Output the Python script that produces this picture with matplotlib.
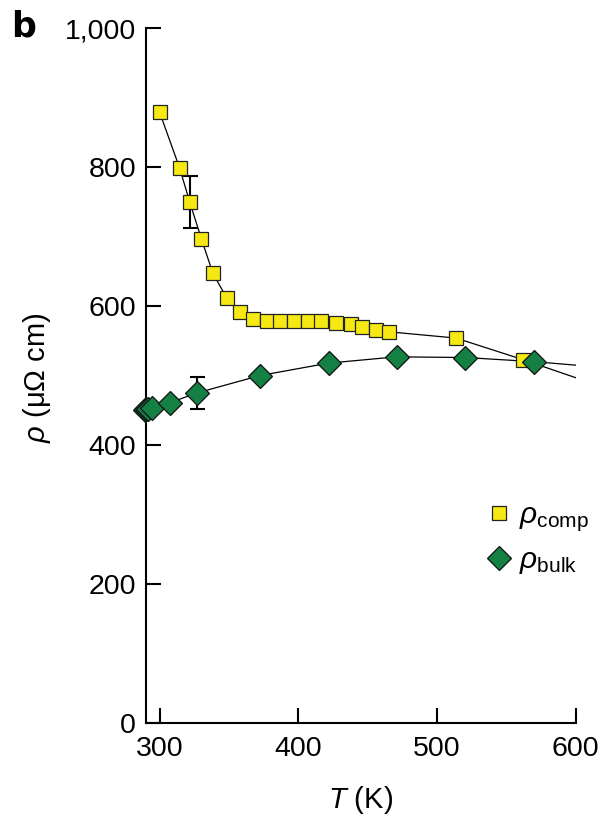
import numpy as np
import matplotlib as mpl
mpl.use('Agg')
import matplotlib.pyplot as plt
from matplotlib.lines import Line2D

plt.rcParams['font.family'] = ['Liberation Sans', 'DejaVu Sans']
plt.rcParams['mathtext.fontset'] = 'custom'
plt.rcParams['mathtext.rm'] = 'Liberation Sans'
plt.rcParams['mathtext.it'] = 'Liberation Sans:italic'

# composite resistivity (squares)
T_comp = [300.0, 314.4, 321.7, 330.1, 338.5, 348.6, 357.8, 367.7, 377.6, 386.6,
          397.0, 407.0, 416.7, 427.0, 438.3, 446.0, 455.7, 465.3, 513.7, 561.9]
rho_comp = [879, 799, 750, 697, 647, 611, 592, 581, 578, 579,
            578, 578, 578, 576, 574, 570, 566, 563, 554, 523]
# trend line carries on past the last point to the axis edge
T_comp_tail = [561.9, 600.0]
rho_comp_tail = [523, 497]

# bulk resistivity (diamonds)
T_bulk = [289.5, 290.5, 291.5, 294.7, 307.4, 326.9, 372.2, 422.0, 470.9, 520.4, 570.2]
rho_bulk = [450, 451.5, 452.5, 454, 461, 475, 500, 518, 527, 526, 520]
T_bulk_tail = [570.2, 600.0]
rho_bulk_tail = [520, 515]

# representative error bars
err_T = [321.7, 326.9]
err_rho = [750, 475]
err_size = [37, 23.5]

yellow = '#f6e913'
green = '#148044'

fig = plt.figure(figsize=(6.07, 8.19), dpi=100)
ax = fig.add_axes([0.240, 0.117, 0.7084, 0.8488])

ax.errorbar(err_T, err_rho, yerr=err_size, fmt='none', ecolor='black',
            elinewidth=1.5, capsize=5.4, capthick=1.5, zorder=2)

ax.plot(T_comp, rho_comp, color='black', lw=0.9, zorder=1)
ax.plot(T_comp_tail, rho_comp_tail, color='black', lw=0.9, zorder=1)
ax.plot(T_bulk, rho_bulk, color='black', lw=0.9, zorder=1)
ax.plot(T_bulk_tail, rho_bulk_tail, color='black', lw=0.9, zorder=1)

ax.plot(T_comp, rho_comp, ls='none', marker='s', ms=10, mfc=yellow,
        mec='#222222', mew=0.9, zorder=3, clip_on=False)
ax.plot(T_bulk, rho_bulk, ls='none', marker='D', ms=12, mfc=green,
        mec='#111111', mew=0.9, zorder=4, clip_on=False)

ax.set_xlim(290, 600)
ax.set_ylim(0, 1000)
ax.set_xticks([300, 400, 500, 600])
ax.set_yticks([0, 200, 400, 600, 800, 1000])
ax.set_yticklabels(['0', '200', '400', '600', '800', '1,000'])

for s in ['top', 'right']:
    ax.spines[s].set_visible(False)
for s in ['left', 'bottom']:
    ax.spines[s].set_linewidth(1.5)

ax.tick_params(direction='in', length=11, width=1.5, labelsize=20.5)
ax.tick_params(axis='x', pad=9)
ax.tick_params(axis='y', pad=7)

ax.set_xlabel(r'$T$ (K)', fontsize=21)
ax.set_ylabel(r'$\rho$ (μΩ cm)', fontsize=21)
ax.xaxis.set_label_coords(0.5, -0.087)
ax.yaxis.set_label_coords(-0.215, 0.497)

handles = [
    Line2D([], [], ls='none', marker='s', ms=10, mfc=yellow, mec='#222222', mew=0.9),
    Line2D([], [], ls='none', marker='D', ms=12, mfc=green, mec='#111111', mew=0.9),
]
ax.legend(handles, [r'$\rho_{\mathrm{comp}}$', r'$\rho_{\mathrm{bulk}}$'],
          loc='upper left', bbox_to_anchor=(0.765, 0.336), frameon=False,
          fontsize=21.5, handlelength=0.8, handletextpad=0.3, labelspacing=0.4,
          borderaxespad=0)

fig.text(0.018, 0.988, 'b', fontsize=25, fontweight='heavy', va='top',
         family='DejaVu Sans')

fig.savefig('out.png', dpi=100)
